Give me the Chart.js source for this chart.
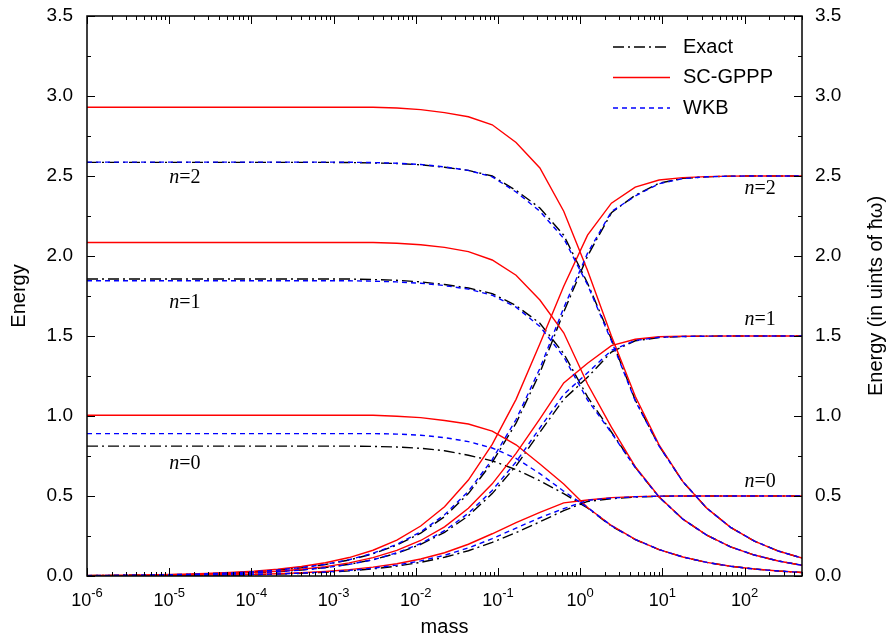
<!DOCTYPE html>
<html><head><meta charset="utf-8">
<script src="https://cdn.jsdelivr.net/npm/chart.js@4.4.1/dist/chart.umd.min.js"></script>
<style>html,body{margin:0;padding:0;background:#fff;}canvas{display:block;}</style>
</head><body>
<canvas id="c" width="890" height="640"></canvas>
<script>
// ---- data ----
const mass = [1e-6, 1.950e-6, 3.802e-6, 7.413e-6, 1.445e-5, 2.818e-5, 5.495e-5, 1.072e-4, 2.089e-4, 4.074e-4,
  7.943e-4, 1.549e-3, 3.020e-3, 5.888e-3, 1.148e-2, 2.239e-2, 4.365e-2, 8.511e-2, 0.1660, 0.3236,
  0.6310, 1.230, 2.399, 4.677, 9.120, 17.78, 34.67, 67.61, 131.8, 257.0, 500];
const xTickExponents = [-6, -5, -4, -3, -2, -1, 0, 1, 2];
const seriesNames = ['Exact', 'SC-GPPP', 'WKB'];
const levelLabels = ['n=0', 'n=1', 'n=2'];

// Energy (left axis), decreasing with mass
const scDecN2 = [2.93,2.93,2.93,2.93,2.93,2.93,2.93,2.93,2.93,2.93,2.93,2.93,2.93,2.925,2.915,2.896,2.87,2.82,2.71,2.55,2.28,1.91,1.50,1.123,0.82,0.59,0.424,0.304,0.218,0.156,0.112];
const exactDecN2 = [2.585,2.585,2.585,2.585,2.585,2.585,2.585,2.585,2.585,2.585,2.585,2.584,2.582,2.578,2.57,2.555,2.535,2.5,2.41,2.30,2.13,1.83,1.48,1.10,0.813,0.589,0.424,0.304,0.218,0.156,0.112];
const wkbDecN2 = [2.587,2.587,2.587,2.587,2.587,2.587,2.587,2.587,2.587,2.587,2.587,2.586,2.584,2.58,2.572,2.557,2.535,2.495,2.40,2.28,2.11,1.82,1.47,1.095,0.812,0.589,0.424,0.304,0.218,0.156,0.112];
const scDecN1 = [2.084,2.084,2.084,2.084,2.084,2.084,2.084,2.084,2.084,2.084,2.084,2.084,2.084,2.08,2.07,2.054,2.027,1.975,1.88,1.725,1.52,1.20,0.93,0.684,0.495,0.355,0.255,0.182,0.131,0.094,0.067];
const exactDecN1 = [1.856,1.856,1.856,1.856,1.856,1.856,1.856,1.856,1.856,1.856,1.856,1.856,1.853,1.848,1.838,1.822,1.80,1.765,1.69,1.58,1.39,1.12,0.90,0.68,0.493,0.355,0.255,0.182,0.131,0.094,0.067];
const wkbDecN1 = [1.845,1.845,1.845,1.845,1.845,1.845,1.845,1.845,1.845,1.845,1.845,1.845,1.843,1.838,1.83,1.815,1.793,1.755,1.68,1.56,1.37,1.10,0.895,0.678,0.493,0.355,0.255,0.182,0.131,0.094,0.067];
const scDecN0 = [1.005,1.005,1.005,1.005,1.005,1.005,1.005,1.005,1.005,1.005,1.005,1.005,1.005,0.998,0.99,0.972,0.95,0.905,0.82,0.70,0.575,0.428,0.316,0.229,0.165,0.1186,0.0849,0.0608,0.0436,0.0312,0.0223];
const exactDecN0 = [0.812,0.812,0.812,0.812,0.812,0.812,0.812,0.812,0.812,0.812,0.812,0.812,0.81,0.806,0.798,0.783,0.755,0.72,0.665,0.595,0.515,0.425,0.312,0.228,0.165,0.1186,0.0849,0.0608,0.0436,0.0312,0.0223];
const wkbDecN0 = [0.89,0.89,0.89,0.89,0.89,0.89,0.89,0.89,0.89,0.89,0.89,0.89,0.89,0.887,0.88,0.865,0.84,0.80,0.735,0.64,0.53,0.428,0.314,0.229,0.165,0.1186,0.0849,0.0608,0.0436,0.0312,0.0223];

// Energy in units of hbar*omega (right axis), increasing with mass
const scIncN2 = [0.0029,0.0041,0.0057,0.0080,0.0111,0.0156,0.0217,0.0303,0.0423,0.0591,0.0826,0.1153,0.161,0.2245,0.3125,0.4332,0.5995,0.8226,1.104,1.451,1.811,2.13,2.33,2.43,2.475,2.49,2.496,2.499,2.5,2.5,2.5];
const exactIncN2 = [0.0026,0.0036,0.0050,0.0070,0.0098,0.0137,0.0191,0.0266,0.0371,0.0516,0.0718,0.1000,0.139,0.193,0.268,0.371,0.515,0.71,0.955,1.27,1.65,2.0,2.27,2.38,2.455,2.485,2.495,2.499,2.5,2.5,2.5];
const wkbIncN2 = [0.0026,0.0036,0.0050,0.0070,0.0098,0.0137,0.0192,0.0268,0.0374,0.0522,0.0729,0.1018,0.142,0.198,0.2757,0.3825,0.5296,0.7278,0.978,1.297,1.676,2.018,2.277,2.375,2.452,2.484,2.495,2.499,2.5,2.5,2.5];
const scIncN1 = [0.0021,0.0029,0.0041,0.0057,0.0079,0.0111,0.0154,0.0216,0.0301,0.0421,0.0587,0.0820,0.1145,0.1596,0.2219,0.3073,0.4234,0.5761,0.7659,0.9814,1.207,1.33,1.44,1.48,1.495,1.498,1.499,1.5,1.5,1.5,1.5];
const exactIncN1 = [0.0019,0.0026,0.0036,0.0051,0.0071,0.0099,0.0138,0.0192,0.0268,0.0375,0.0523,0.0731,0.1018,0.1418,0.197,0.2726,0.376,0.5149,0.6885,0.8989,1.104,1.242,1.40,1.47,1.49,1.497,1.499,1.5,1.5,1.5,1.5];
const wkbIncN1 = [0.0018,0.0026,0.0036,0.0050,0.0070,0.0098,0.0137,0.0191,0.0267,0.0372,0.0520,0.0726,0.1013,0.145,0.203,0.283,0.392,0.535,0.713,0.925,1.135,1.27,1.41,1.472,1.492,1.497,1.499,1.5,1.5,1.5,1.5];
const scIncN0 = [0.0010,0.0014,0.0020,0.0027,0.0038,0.0053,0.0075,0.0104,0.0145,0.0203,0.0283,0.0396,0.0552,0.0766,0.1061,0.1454,0.1985,0.264,0.3341,0.3982,0.4567,0.475,0.49,0.496,0.499,0.5,0.5,0.5,0.5,0.5,0.5];
const exactIncN0 = [0.0008,0.0011,0.0016,0.0022,0.0031,0.0043,0.0060,0.0084,0.0117,0.0164,0.0229,0.0320,0.0445,0.0619,0.0855,0.1171,0.1577,0.21,0.2709,0.3385,0.409,0.466,0.483,0.493,0.498,0.4995,0.5,0.5,0.5,0.5,0.5];
const wkbIncN0 = [0.0009,0.0012,0.0017,0.0024,0.0034,0.0047,0.0066,0.0092,0.0129,0.0180,0.0251,0.0350,0.0489,0.0681,0.0943,0.1294,0.1755,0.2334,0.2994,0.3641,0.421,0.473,0.487,0.495,0.499,0.5,0.5,0.5,0.5,0.5,0.5];

// ---- styles ----
const FONT = "'Liberation Sans', Arial, Helvetica, sans-serif";
const SERIF = "'Liberation Serif', 'Times New Roman', serif";
const styles = {
  'Exact':   {borderColor:'#000000', borderWidth:1.4, borderDash:[11,4,2,4]},
  'SC-GPPP': {borderColor:'#ff0000', borderWidth:1.4, borderDash:[]},
  'WKB':     {borderColor:'#0000ff', borderWidth:1.4, borderDash:[5,4]}
};
const mk = (name, arr, axis) => Object.assign({
  label: name, yAxisID: axis,
  data: mass.map((m, i) => ({x: m, y: arr[i]})),
  pointRadius: 0, tension: 0, fill: false
}, styles[name]);

// first dataset is drawn on top in Chart.js
const datasets = [
  mk('WKB', wkbDecN2, 'y'), mk('WKB', wkbDecN1, 'y'), mk('WKB', wkbDecN0, 'y'),
  mk('WKB', wkbIncN2, 'y2'), mk('WKB', wkbIncN1, 'y2'), mk('WKB', wkbIncN0, 'y2'),
  mk('SC-GPPP', scDecN2, 'y'), mk('SC-GPPP', scDecN1, 'y'), mk('SC-GPPP', scDecN0, 'y'),
  mk('SC-GPPP', scIncN2, 'y2'), mk('SC-GPPP', scIncN1, 'y2'), mk('SC-GPPP', scIncN0, 'y2'),
  mk('Exact', exactDecN2, 'y'), mk('Exact', exactDecN1, 'y'), mk('Exact', exactDecN0, 'y'),
  mk('Exact', exactIncN2, 'y2'), mk('Exact', exactIncN1, 'y2'), mk('Exact', exactIncN0, 'y2')
];

// level label anchors in data coordinates [mass, energy]
const leftLabelAnchors  = [[1e-5, 0.70], [1e-5, 1.71], [1e-5, 2.49]];
const rightLabelAnchors = [[100, 0.59], [100, 1.60], [100, 2.42]];

const deco = {
  id: 'deco',
  afterDatasetsDraw(chart) {
    const {ctx, chartArea: a, scales} = chart;
    const x = scales.x, y = scales.y;
    ctx.save();
    // frame
    ctx.strokeStyle = '#000'; ctx.lineWidth = 1.5;
    ctx.strokeRect(a.left, a.top, a.right - a.left, a.bottom - a.top);
    // inward ticks
    ctx.lineWidth = 1;
    ctx.beginPath();
    for (let k = 0; k <= 14; k++) {
      const v = k * 0.25;
      const py = Math.round(y.getPixelForValue(v)) + 0.5;
      const L = (k % 2 === 0) ? 8 : 4;
      ctx.moveTo(a.left, py); ctx.lineTo(a.left + L, py);
      ctx.moveTo(a.right, py); ctx.lineTo(a.right - L, py);
    }
    for (const d of xTickExponents) {
      for (let j = 1; j <= 9; j++) {
        const v = j * Math.pow(10, d);
        if (v > x.max) break;
        const px = Math.round(x.getPixelForValue(v)) + 0.5;
        const L = j === 1 ? 8 : 4;
        ctx.moveTo(px, a.bottom); ctx.lineTo(px, a.bottom - L);
        ctx.moveTo(px, a.top); ctx.lineTo(px, a.top + L);
      }
    }
    ctx.stroke();
    // x tick labels 10^n
    ctx.fillStyle = '#000';
    ctx.textAlign = 'left'; ctx.textBaseline = 'alphabetic';
    for (const d of xTickExponents) {
      const px = x.getPixelForValue(Math.pow(10, d));
      ctx.font = '18px ' + FONT; const w1 = ctx.measureText('10').width;
      ctx.font = '13px ' + FONT; const e = String(d); const w2 = ctx.measureText(e).width;
      const s = px - (w1 + w2) / 2;
      ctx.font = '18px ' + FONT; ctx.fillText('10', s, a.bottom + 30);
      ctx.font = '13px ' + FONT; ctx.fillText(e, s + w1, a.bottom + 21);
    }
    // legend
    ctx.textBaseline = 'middle';
    ctx.font = '20px ' + FONT;
    seriesNames.forEach((name, i) => {
      const st = styles[name];
      const ly = a.top + 31 + i * 30.5;
      ctx.save();
      ctx.strokeStyle = st.borderColor; ctx.lineWidth = st.borderWidth;
      ctx.setLineDash(st.borderDash);
      ctx.beginPath(); ctx.moveTo(a.right - 189, ly); ctx.lineTo(a.right - 132, ly); ctx.stroke();
      ctx.restore();
      ctx.fillStyle = '#000';
      ctx.fillText(name, a.right - 119, ly);
    });
    // level labels
    const drawLevel = (txt, px, py) => {
      ctx.font = 'italic 20px ' + SERIF;
      ctx.fillText(txt[0], px, py);
      const w = ctx.measureText(txt[0]).width;
      ctx.font = '20px ' + SERIF;
      ctx.fillText(txt.slice(1), px + w, py);
    };
    levelLabels.forEach((t, i) => {
      drawLevel(t, x.getPixelForValue(leftLabelAnchors[i][0]), y.getPixelForValue(leftLabelAnchors[i][1]));
      drawLevel(t, x.getPixelForValue(rightLabelAnchors[i][0]), scales.y2.getPixelForValue(rightLabelAnchors[i][1]));
    });
    // right axis title (reads bottom to top)
    ctx.save();
    ctx.translate(876, (a.top + a.bottom) / 2);
    ctx.rotate(-Math.PI / 2);
    ctx.textAlign = 'center'; ctx.textBaseline = 'middle';
    ctx.font = '20px ' + FONT;
    ctx.fillText('Energy (in uints of \u0127\u03c9)', 0, 0);
    ctx.restore();
    ctx.restore();
  }
};

Chart.defaults.font.family = FONT;
Chart.defaults.color = '#000';

const fixVertical = w => s => { s.width = w; s.paddingTop = 0; s.paddingBottom = 0; };

new Chart(document.getElementById('c'), {
  type: 'line',
  data: {datasets},
  options: {
    responsive: false, animation: false,
    layout: {padding: {top: 16, left: 0, right: 0, bottom: 0}},
    plugins: {legend: {display: false}, tooltip: {enabled: false}},
    scales: {
      x: {type: 'logarithmic', min: 1e-6, max: 500, position: 'bottom',
          grid: {display: false, drawTicks: false}, border: {display: false},
          ticks: {display: false},
          title: {display: true, text: 'mass', color: '#000', font: {size: 20}, padding: {top: 0, bottom: 1}},
          afterFit(s) { s.height = 64; s.paddingLeft = 0; s.paddingRight = 0; }},
      y: {type: 'linear', min: 0, max: 3.5, position: 'left',
          grid: {display: false, drawTicks: false}, border: {display: false},
          ticks: {stepSize: 0.5, padding: 14, font: {size: 19}, color: '#000', callback: v => v.toFixed(1)},
          title: {display: true, text: 'Energy', color: '#000', font: {size: 20}, padding: {top: 7, bottom: 0}},
          afterFit: fixVertical(87)},
      y2: {type: 'linear', min: 0, max: 3.5, position: 'right',
          grid: {display: false, drawTicks: false}, border: {display: false},
          ticks: {stepSize: 0.5, padding: 13, font: {size: 19}, color: '#000', callback: v => v.toFixed(1)},
          afterFit: fixVertical(88)}
    }
  },
  plugins: [deco]
});
</script>
</body></html>
